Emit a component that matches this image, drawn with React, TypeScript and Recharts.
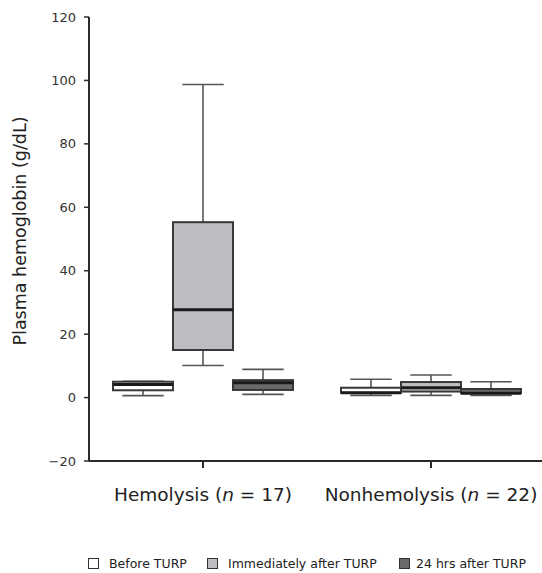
import { ComposedChart, Bar, XAxis, YAxis, Legend } from 'recharts'

const groups = ['Hemolysis', 'Nonhemolysis']
const groupN = [17, 22]
const yTicks = [-20, 0, 20, 40, 60, 80, 100, 120]

// each box: [min, q1, median, q3, max]
const beforeTurp = [
  [0.6, 2.3, 4.1, 5.0, 5.1],
  [0.7, 1.5, 1.5, 3.1, 5.8],
]
const immediatelyAfter = [
  [10.1, 15.0, 27.7, 55.3, 98.7],
  [0.7, 1.9, 3.1, 4.9, 7.1],
]
const after24h = [
  [1.0, 2.4, 4.7, 5.5, 8.9],
  [0.7, 1.4, 1.4, 2.7, 5.0],
]

const seriesNames = ['Before TURP', 'Immediately after TURP', '24 hrs after TURP']
const seriesKeys = ['before', 'immediate', 'after24']
const seriesFills = ['#ffffff', '#bdbec1', '#6a6a6d']

const rows = groups.map((g, i) => ({
  group: g,
  n: groupN[i],
  before: beforeTurp[i],
  immediate: immediatelyAfter[i],
  after24: after24h[i],
}))

const FONT = '"DejaVu Sans", Verdana, sans-serif'

function makeBox(key: string, fill: string) {
  return (props: any) => {
    const { x, y, width, height, payload } = props
    const s: number[] = payload[key]
    const [min, q1, med, q3, max] = s
    const k = height / (max - min)
    const toY = (v: number) => y + (max - v) * k
    const cx = x + width / 2
    const capW = width * 0.69
    return (
      <g>
        <line x1={cx} x2={cx} y1={toY(max)} y2={toY(q3)} stroke="#555" strokeWidth={1.6} />
        <line x1={cx} x2={cx} y1={toY(q1)} y2={toY(min)} stroke="#555" strokeWidth={1.6} />
        <line x1={cx - capW / 2} x2={cx + capW / 2} y1={toY(max)} y2={toY(max)} stroke="#555" strokeWidth={1.6} />
        <line x1={cx - capW / 2} x2={cx + capW / 2} y1={toY(min)} y2={toY(min)} stroke="#555" strokeWidth={1.6} />
        <rect x={x} y={toY(q3)} width={width} height={toY(q1) - toY(q3)} fill={fill} stroke="#383838" strokeWidth={2} />
        <line x1={x} x2={x + width} y1={toY(med)} y2={toY(med)} stroke="#1a1a1a" strokeWidth={3} />
      </g>
    )
  }
}

function GroupTick(props: any) {
  const { x, y, payload, index } = props
  return (
    <text x={x} y={y} dy={33} textAnchor="middle" fontSize={18.5} fill="#222" fontFamily={FONT}>
      {payload.value} (<tspan fontStyle="italic">n</tspan> = {groupN[index]})
    </text>
  )
}

function YTitle(props: any) {
  const { viewBox } = props
  const cx = 20
  const cy = viewBox.y + viewBox.height / 2 - 8
  return (
    <text x={cx} y={cy} transform={`rotate(-90 ${cx} ${cy})`} textAnchor="middle" dominantBaseline="central" fontSize={17.5} fill="#222" fontFamily={FONT}>
      Plasma hemoglobin (g/dL)
    </text>
  )
}

const legendLeft = [88, 207, 399]

function LegendBox() {
  return (
    <div style={{ position: 'relative', height: 20, fontFamily: FONT, fontSize: 12.5, color: '#222' }}>
      {seriesNames.map((name, i) => (
        <div key={name} style={{ position: 'absolute', left: legendLeft[i], top: 0, height: 20, display: 'flex', alignItems: 'center', whiteSpace: 'nowrap' }}>
          <span style={{ display: 'inline-block', width: 9, height: 9, border: '1.5px solid #333', background: seriesFills[i], marginRight: i === 2 ? 6 : 10 }} />
          {name}
        </div>
      ))}
    </div>
  )
}

export default function App() {
  return (
    <div style={{ position: 'absolute', left: 0, top: 0, width: 542, height: 573, overflow: 'hidden', background: '#fff' }}>
      <ComposedChart width={553} height={573} data={rows} margin={{ top: 17, right: 8, left: 10, bottom: 32 }} barGap={0} barSize={60}>
        <XAxis
          dataKey="group"
          height={60}
          axisLine={{ stroke: '#2b2b2b', strokeWidth: 2 }}
          tickLine={{ stroke: '#2b2b2b', strokeWidth: 2 }}
          tickSize={7}
          tickMargin={0}
          tick={<GroupTick />}
          interval={0}
        />
        <YAxis
          width={79}
          domain={[-20, 120]}
          ticks={yTicks}
          type="number"
          allowDataOverflow
          axisLine={{ stroke: '#2b2b2b', strokeWidth: 2 }}
          tickLine={{ stroke: '#2b2b2b', strokeWidth: 1.5 }}
          tickSize={5}
          tickMargin={8}
          tick={{ fontSize: 13, fill: '#333', fontFamily: FONT }}
          tickFormatter={(v: number) => (v < 0 ? `\u2212${Math.abs(v)}` : `${v}`)}
          label={<YTitle />}
        />
        {seriesKeys.map((key, i) => (
          <Bar
            key={key}
            name={seriesNames[i]}
            dataKey={(r: any) => [r[key][0], r[key][4]]}
            fill={seriesFills[i]}
            shape={makeBox(key, seriesFills[i])}
            isAnimationActive={false}
          />
        ))}
        <Legend verticalAlign="bottom" content={<LegendBox />} wrapperStyle={{ left: 0, bottom: 0, width: 553, height: 20 }} />
      </ComposedChart>
    </div>
  )
}
